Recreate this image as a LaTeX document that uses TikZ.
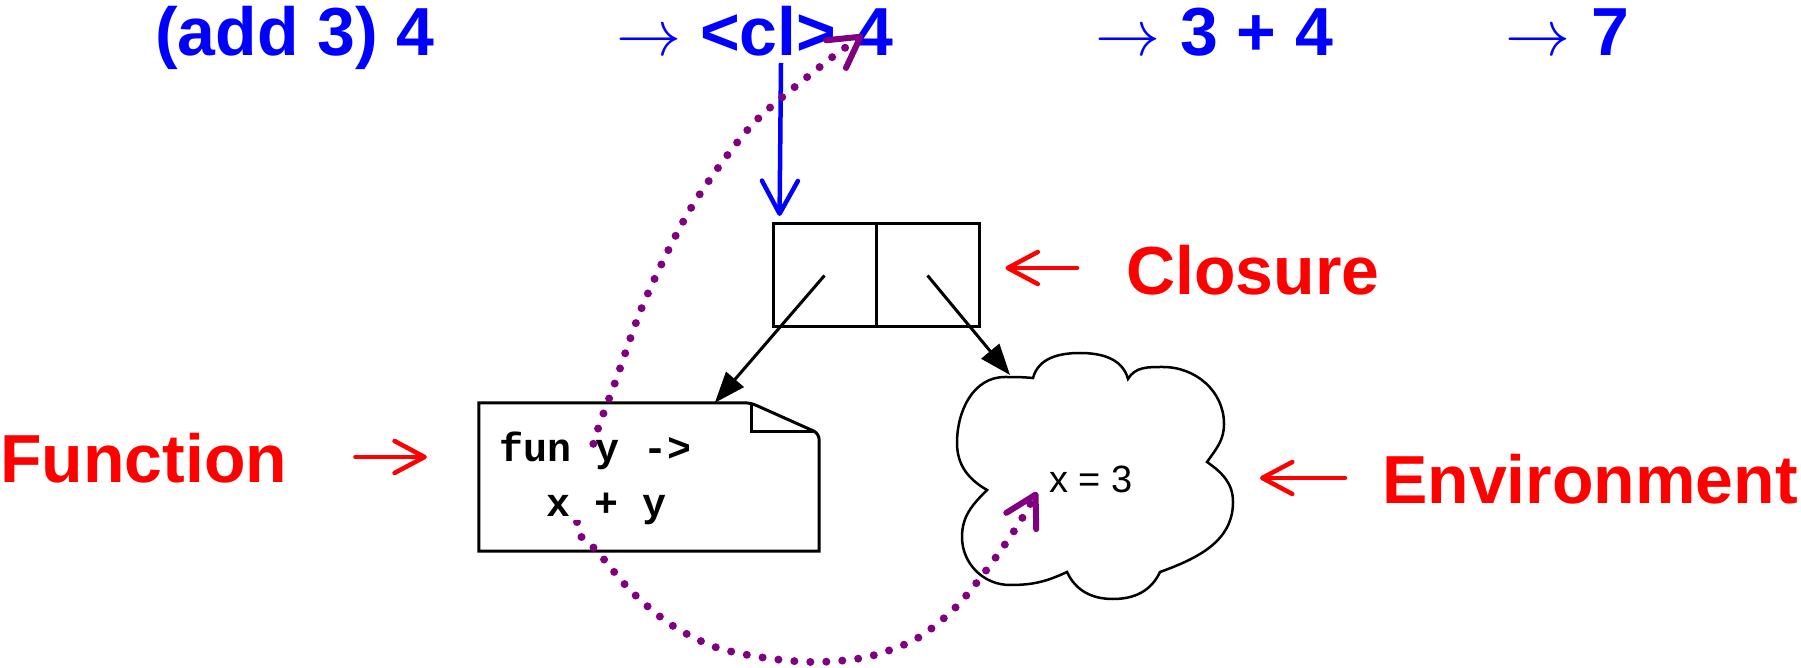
\RequirePackage{fix-cm}
\documentclass[tikz,border=0pt]{standalone}
\usepackage{fontspec}
\setmainfont{Liberation Sans}
\newfontfamily\codefont{Liberation Mono}
\usetikzlibrary{arrows.meta}
\definecolor{exprblue}{RGB}{0,0,255}
\definecolor{tagred}{RGB}{255,0,0}
\definecolor{linkpurple}{RGB}{128,0,128}
\tikzset{
  expr/.style={text=exprblue, font=\fontsize{68}{80}\selectfont\bfseries, inner sep=0pt, anchor=base west},
  steparrow/.style={text=exprblue, font=\fontsize{65}{70}\selectfont, inner sep=0pt, anchor=base},
  tag/.style={text=tagred, font=\fontsize{68}{80}\selectfont\bfseries, inner sep=0pt, anchor=base west},
  tagarrow/.style={draw=tagred, line width=4.5pt, line cap=round, -{Straight Barb[length=30pt,width=32pt,round]}},
  cell/.style={draw, line width=3pt, minimum width=103pt, minimum height=103pt, inner sep=0pt},
  ptr/.style={line width=3pt, -{Triangle[length=31pt,width=23pt]}},
  code/.style={font=\fontsize{40}{55}\selectfont\codefont\bfseries, inner sep=0pt, anchor=base west, fill=white},
  link/.style={draw=linkpurple, line width=8pt, line cap=round, dash pattern=on 0pt off 16pt,
    >={Straight Barb[length=30pt,width=34pt,line width=6pt,round]}, <->},
}
\begin{document}
\begin{tikzpicture}[x=1pt, y=1pt]
  \useasboundingbox (0,0) rectangle (1801,667);
  % 顶部求值序列
  \node[expr] (call) at (155,611) {(add 3) 4};
  \node[steparrow] (s1) at (649,611) {$\rightarrow$};
  \node[expr] (clexpr) at (700,611) {<cl> 4};
  \node[steparrow] (s2) at (1128,611) {$\rightarrow$};
  \node[expr] (sum) at (1180,611) {3 + 4};
  \node[steparrow] (s3) at (1538,611) {$\rightarrow$};
  \node[expr] (result) at (1591,611) {7};
  % 云（环境）
  \draw[line width=2.5pt, fill=white]
    (1033,289) to[out=75,in=180] (1080,314) to[out=0,in=105] (1128,288)
    to[out=60,in=180] (1163,300) to[out=0,in=90] (1224,243) to[out=-90,in=55] (1207,205)
    to[out=-35,in=90] (1233,165) to[out=-90,in=20] (1160,95)
    to[out=-115,in=0] (1113,68) to[out=180,in=-65] (1067,95)
    to[out=-155,in=0] (1010,82) to[out=180,in=-90] (962,130) to[out=90,in=-135] (987,177)
    to[out=150,in=-90] (957,224) to[out=90,in=180] (1005,290) to[out=0,in=175] (1033,289) -- cycle;
  \coordinate (cloudtop) at (1010,292);
  \coordinate (cloudright) at (1232,167);
  \node[font=\fontsize{38}{44}\selectfont, inner sep=0pt, anchor=base west] (envval) at (1049,175) {x = 3};
  % 闭包的两个格子
  \node[cell] (clA) at (824.5,391.5) {};
  \node[cell] (clB) at (927.5,391.5) {};
  % 函数框（折角）
  \node[minimum width=340pt, minimum height=148pt, inner sep=0pt] (fun) at (649,190) {};
  \draw[line width=3pt, fill=white] (fun.south west) -- (fun.north west) -- ([xshift=-76pt]fun.north east)
    to[out=0,in=156] ([xshift=-62pt,yshift=-3pt]fun.north east) -- ([xshift=-6pt,yshift=-28pt]fun.north east)
    to[out=-24,in=90] ([yshift=-38pt]fun.north east) -- (fun.south east) -- cycle;
  \draw[line width=3pt] ([xshift=-68pt,yshift=-2pt]fun.north east) -- ([xshift=-68pt,yshift=-29pt]fun.north east)
    -- ([xshift=-6pt,yshift=-29pt]fun.north east);
  % 指针
  \draw[ptr] (clA.center) -- ([xshift=236pt]fun.north west);
  \draw[ptr] (clB.center) -- (cloudtop);
  \draw[draw=exprblue, line width=4.5pt, shorten >=6.5pt, -{Straight Barb[length=33pt,width=36pt,round]}]
    ([xshift=81pt,yshift=-7pt]clexpr.base west) -- ([xshift=8pt]clA.north west);
  % 虚线曲线
  \coordinate (argtip) at (863,632);
  \coordinate (envtip) at (1037,175);
  \draw[link] plot[smooth, tension=0.5] coordinates {(argtip) (816,597) (751,541) (691,459) (645,367)
    (616,287) (593,222) (577,142) (598,115) (631,76) (670,43) (715,20) (766,9) (816,5) (867,10)
    (916,28) (955,59) (988,99) (1018,142) (envtip)};
  % 代码
  \node[code, text height=14pt, text depth=20pt] (funhead) at (499,205) {fun y ->};
  \node[code, text height=35pt, text depth=3pt] (funbody) at (546,150) {x + y};
  % 红色标注
  \node[tag] (funtag) at (0,185) {Function};
  \node[tag] (clotag) at (1126,372) {Closure};
  \node[tag] (envtag) at (1382,164) {Environment};
  \draw[tagarrow] ([xshift=68pt,yshift=25pt]funtag.base east) -- ([xshift=-52pt,yshift=20pt]fun.west);
  \draw[tagarrow] ([xshift=-49pt,yshift=27pt]clotag.base west) -- ([xshift=25pt,yshift=7.5pt]clB.east);
  \draw[tagarrow] ([xshift=-37pt,yshift=25pt]envtag.base west) -- ([xshift=28pt,yshift=22pt]cloudright);
\end{tikzpicture}
\end{document}
